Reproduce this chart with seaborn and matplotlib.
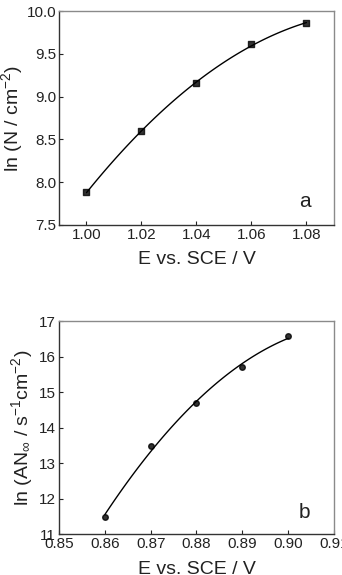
import numpy as np
import pandas as pd
import matplotlib
matplotlib.use("Agg")
import matplotlib.pyplot as plt
import seaborn as sns

# --- data ---
e_a = [1.00, 1.02, 1.04, 1.06, 1.08]
lnN_a = [7.88, 8.60, 9.16, 9.61, 9.86]

e_b = [0.86, 0.87, 0.88, 0.89, 0.90]
lnAN_b = [11.47, 13.49, 14.70, 15.70, 16.58]

xticks_a = [1.00, 1.02, 1.04, 1.06, 1.08]
xticklabels_a = ["1.00", "1.02", "1.04", "1.06", "1.08"]
yticks_a = [7.5, 8.0, 8.5, 9.0, 9.5, 10.0]

xticks_b = [0.85, 0.86, 0.87, 0.88, 0.89, 0.90, 0.91]
xticklabels_b = ["0.85", "0.86", "0.87", "0.88", "0.89", "0.90", "0.91"]
yticks_b = [11, 12, 13, 14, 15, 16, 17]

df_a = pd.DataFrame({"E": e_a, "y": lnN_a})
df_b = pd.DataFrame({"E": e_b, "y": lnAN_b})

sns.set_style("ticks")
plt.rcParams["font.family"] = ["Liberation Sans", "DejaVu Sans"]
plt.rcParams["mathtext.fontset"] = "custom"
plt.rcParams["mathtext.rm"] = "Liberation Sans"
plt.rcParams["mathtext.it"] = "Liberation Sans"

txt = "#222222"
fig = plt.figure(figsize=(3.42, 5.75), dpi=100)
ax1 = fig.add_axes([0.1725, 0.6087, 0.804, 0.372])
ax2 = fig.add_axes([0.1725, 0.0713, 0.804, 0.370])


def style(ax):
    for s in ["left", "bottom"]:
        ax.spines[s].set_color("#333333")
        ax.spines[s].set_linewidth(1.0)
    for s in ["top", "right"]:
        ax.spines[s].set_visible(True)
        ax.spines[s].set_color("#8a8a8a")
        ax.spines[s].set_linewidth(1.0)
    ax.tick_params(direction="in", length=3, width=0.8, labelsize=11,
                   colors=txt, pad=2)


# --- panel a ---
sns.regplot(data=df_a, x="E", y="y", order=2, ci=None, ax=ax1,
            marker="s", color="black",
            scatter_kws={"s": 16, "zorder": 3},
            line_kws={"linewidth": 1.0})
ax1.set_xlim(0.99, 1.09)
ax1.set_ylim(7.5, 10.0)
ax1.set_xticks(xticks_a)
ax1.set_xticklabels(xticklabels_a)
ax1.set_yticks(yticks_a)
ax1.set_xlabel("E vs. SCE / V", fontsize=14, color=txt, labelpad=7)
ax1.set_ylabel("ln (N / cm$^{-2}$)", fontsize=14, color=txt, labelpad=1)
ax1.text(1.0795, 7.78, "a", fontsize=15, color=txt, ha="center", va="center")
style(ax1)

# --- panel b ---
sns.regplot(data=df_b, x="E", y="y", order=2, ci=None, ax=ax2,
            marker="o", color="black",
            scatter_kws={"s": 16, "zorder": 3},
            line_kws={"linewidth": 1.0})
ax2.set_xlim(0.85, 0.91)
ax2.set_ylim(11, 17)
ax2.set_xticks(xticks_b)
ax2.set_xticklabels(xticklabels_b)
ax2.set_yticks(yticks_b)
ax2.set_xlabel("E vs. SCE / V", fontsize=14, color=txt, labelpad=7)
ax2.set_ylabel("ln (AN$_\\infty$ / s$^{-1}$cm$^{-2}$)", fontsize=14, color=txt, labelpad=3)
ax2.text(0.9035, 11.6, "b", fontsize=15, color=txt, ha="center", va="center")
style(ax2)

fig.savefig("out.png", dpi=100)
